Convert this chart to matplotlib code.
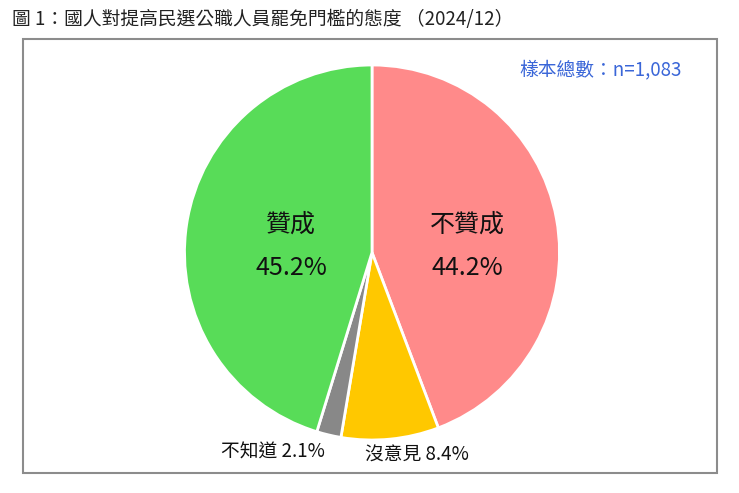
import matplotlib.pyplot as plt
from matplotlib.patches import Rectangle

plt.rcParams['font.family'] = ['Noto Sans CJK TC', 'DejaVu Sans']

labels = ['不贊成', '沒意見', '不知道', '贊成']
shares = [44.2, 8.4, 2.1, 45.2]
colors = ['#FF8A8A', '#FFC800', '#888888', '#58DC58']
title = '圖 1：國人對提高民選公職人員罷免門檻的態度 （2024/12）'
sample_note = '樣本總數：n=1,083'

W, H = 739, 493
fig = plt.figure(figsize=(W / 100, H / 100), dpi=100)

def fx(px):
    return px / W

def fy(py):
    return 1 - py / H

# frame around the chart area
fig.patches.append(Rectangle((fx(23), fy(473)), fx(717) - fx(23), fy(39) - fy(473),
                             transform=fig.transFigure, fill=False,
                             edgecolor='#8c8c8c', linewidth=1.5))

fig.text(fx(12), fy(20), title, fontsize=13.5, va='center', ha='left', color='#222222')
fig.text(fx(601), fy(70), sample_note, fontsize=13.5, va='center', ha='center', color='#3A66D8')

cx, cy, r = 372, 252.5, 187.5
ax = fig.add_axes([fx(cx - r), fy(cy + r), 2 * r / W, 2 * r / H])
ax.pie(shares, colors=colors, startangle=90, counterclock=False,
       wedgeprops=dict(edgecolor='white', linewidth=2))
ax.set_xlim(-1, 1)
ax.set_ylim(-1, 1)
ax.axis('off')

# label positions in pixels (name, value)
inside = {'不贊成': (467, 225, 268), '贊成': (291, 225, 268)}
outside = {'不知道': (273, 452), '沒意見': (417, 455)}
for name, val in zip(labels, shares):
    if name in inside:
        x, y1, y2 = inside[name]
        fig.text(fx(x), fy(y1), name, fontsize=18, ha='center', va='center', color='#111111')
        fig.text(fx(x), fy(y2), f'{val}%', fontsize=18, ha='center', va='center', color='#111111')
    else:
        x, y = outside[name]
        fig.text(fx(x), fy(y), f'{name} {val}%', fontsize=13.5, ha='center', va='center', color='#111111')

fig.savefig('out.png', dpi=100, facecolor='white')
